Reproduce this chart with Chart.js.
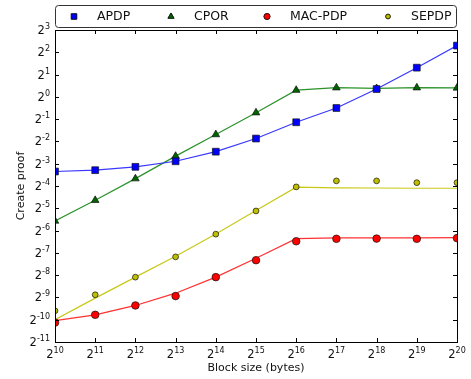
<!DOCTYPE html>
<html>
<head>
<meta charset="utf-8">
<script src="https://cdn.jsdelivr.net/npm/chart.js@4.4.0/dist/chart.umd.min.js"></script>
<style>
  html, body { margin: 0; padding: 0; background: #fff; }
  #wrap { width: 471px; height: 379px; }
</style>
</head>
<body>
<div id="wrap"><canvas id="graficoProof" width="471" height="379"></canvas></div>
<script>
// Eje x: exponentes de 2 del tamaño de bloque (bytes)
const blockExp = [10, 11, 12, 13, 14, 15, 16, 17, 18, 19, 20];
// Eje y: exponentes de 2 del tiempo
const yTickExp = [-11, -10, -9, -8, -7, -6, -5, -4, -3, -2, -1, 0, 1, 2, 3];

// Valores (log2 del tiempo)
const apdp = [-3.35, -3.29, -3.14, -2.89, -2.46, -1.87, -1.14, -0.50, 0.35, 1.31, 2.30];
const cpor = [-5.57, -4.64, -3.67, -2.66, -1.69, -0.71, 0.30, 0.41, 0.38, 0.41, 0.40];
const macPdp = [-10.13, -9.78, -9.36, -8.94, -8.09, -7.33, -6.48, -6.37, -6.36, -6.37, -6.34];
const sepdp = [-9.60, -8.88, -8.09, -7.18, -6.16, -5.12, -4.04, -3.77, -3.77, -3.85, -3.85];

// Curvas de ajuste (líneas)
const apdpFit = apdp;
const cporFit = cpor;
const macPdpFit = [-10.04, -9.78, -9.36, -8.81, -8.09, -7.24, -6.36, -6.33, -6.33, -6.33, -6.32];
const sepdpFit = [-10.0, -9.03, -8.09, -7.15, -6.15, -5.10, -4.05, -4.08, -4.09, -4.10, -4.10];

const seriesNames = ['APDP', 'CPOR', 'MAC-PDP', 'SEPDP'];

function puntos(valores) {
    return blockExp.map((x, i) => ({ x: x, y: valores[i] }));
}

function serieLinea(valores, color) {
    return {
        data: puntos(valores),
        borderColor: color,
        borderWidth: 1.2,
        pointRadius: 0,
        fill: false,
        tension: 0,
        order: 10,
        esLinea: true
    };
}

function serieMarcas(label, valores, color, estilo, radio) {
    return {
        label: label,
        data: puntos(valores),
        showLine: false,
        pointStyle: estilo,
        pointRadius: radio,
        pointBackgroundColor: color,
        pointBorderColor: '#111',
        pointBorderWidth: 0.7,
        clip: 0,
        order: 1
    };
}

const fuente = '"DejaVu Sans", sans-serif';

function dibujarPotencia(ctx, exp, x, y, alinear) {
    const base = '2';
    const sup = String(exp);
    ctx.font = '11.5px ' + fuente;
    const wb = ctx.measureText(base).width;
    ctx.font = '8px ' + fuente;
    const ws = ctx.measureText(sup).width;
    const izq = alinear === 'right' ? x - wb - ws : x - (wb + ws) / 2;
    ctx.textAlign = 'left';
    ctx.textBaseline = 'alphabetic';
    ctx.font = '11.5px ' + fuente;
    ctx.fillText(base, izq, y);
    ctx.font = '8px ' + fuente;
    ctx.fillText(sup, izq + wb, y - 5);
}

// Marco, marcas de los ejes hacia dentro, etiquetas, títulos y leyenda
const ejesPlugin = {
    id: 'ejesMatplotlib',
    afterDraw(chart) {
        const ctx = chart.ctx;
        const a = chart.chartArea;
        const sx = chart.scales.x;
        const sy = chart.scales.y;
        ctx.save();
        ctx.strokeStyle = '#000';
        ctx.fillStyle = '#111';
        ctx.lineWidth = 1;

        // ticks
        ctx.beginPath();
        blockExp.forEach(e => {
            const px = Math.round(sx.getPixelForValue(e)) + 0.5;
            ctx.moveTo(px, a.bottom); ctx.lineTo(px, a.bottom - 4);
            ctx.moveTo(px, a.top); ctx.lineTo(px, a.top + 4);
        });
        yTickExp.forEach(e => {
            const py = Math.round(sy.getPixelForValue(e)) + 0.5;
            ctx.moveTo(a.left, py); ctx.lineTo(a.left + 4, py);
            ctx.moveTo(a.right, py); ctx.lineTo(a.right - 4, py);
        });
        ctx.stroke();

        // marco
        ctx.strokeRect(Math.round(a.left) + 0.5, Math.round(a.top) + 0.5,
            Math.round(a.right - a.left), Math.round(a.bottom - a.top));

        // etiquetas de los ticks
        blockExp.forEach(e => {
            dibujarPotencia(ctx, e, sx.getPixelForValue(e), a.bottom + 16, 'center');
        });
        yTickExp.forEach(e => {
            dibujarPotencia(ctx, e, a.left - 5, sy.getPixelForValue(e) + 4, 'right');
        });

        // títulos de los ejes
        ctx.font = '11px ' + fuente;
        ctx.textAlign = 'center';
        ctx.textBaseline = 'middle';
        ctx.fillText('Block size (bytes)', (a.left + a.right) / 2, 368);
        ctx.save();
        ctx.translate(21, (a.top + a.bottom) / 2);
        ctx.rotate(-Math.PI / 2);
        ctx.fillText('Create proof', 0, 0);
        ctx.restore();

        // leyenda
        const lx = 55.5, ly = 5.5, lw = 401, lh = 22, r = 3;
        ctx.beginPath();
        ctx.roundRect(lx, ly, lw, lh, r);
        ctx.fillStyle = '#fff';
        ctx.fill();
        ctx.strokeStyle = '#333';
        ctx.stroke();
        const posMarca = [74, 171, 267, 388];
        const marcas = chart.data.datasets.filter(d => !d.esLinea);
        marcas.forEach((d, i) => {
            Chart.helpers.drawPoint(ctx, {
                pointStyle: d.pointStyle,
                radius: d.pointRadius * 0.8,
                borderWidth: 0.7
            }, posMarca[i], 16.5);
            ctx.fillStyle = d.pointBackgroundColor;
            ctx.strokeStyle = '#111';
            ctx.lineWidth = 0.7;
            ctx.fill();
            ctx.stroke();
            ctx.fillStyle = '#111';
            ctx.font = '12.5px ' + fuente;
            ctx.textAlign = 'left';
            ctx.textBaseline = 'middle';
            ctx.fillText(d.label, posMarca[i] + 23, 17);
        });
        ctx.restore();
    }
};

function generarGraficoProof() {
    const ctx = document.getElementById('graficoProof').getContext('2d');

    const data = {
        datasets: [
            serieLinea(apdpFit, '#3838ff'),
            serieLinea(cporFit, '#2a922a'),
            serieLinea(macPdpFit, '#ff3030'),
            serieLinea(sepdpFit, '#c8c818'),
            serieMarcas(seriesNames[0], apdp, '#0000ff', 'rect', 4.8),
            serieMarcas(seriesNames[1], cpor, '#006400', 'triangle', 4.4),
            serieMarcas(seriesNames[2], macPdp, '#ff0000', 'circle', 3.8),
            serieMarcas(seriesNames[3], sepdp, '#bfbf00', 'circle', 2.9)
        ]
    };

    const config = {
        type: 'line',
        data: data,
        options: {
            responsive: false,
            animation: false,
            devicePixelRatio: 1,
            layout: {
                padding: { left: 55, top: 30, right: 14, bottom: 37 }
            },
            scales: {
                x: { type: 'linear', min: 10, max: 20, display: false },
                y: { type: 'linear', min: -11, max: 3, display: false }
            },
            plugins: {
                legend: { display: false },
                tooltip: { enabled: false }
            }
        },
        plugins: [ejesPlugin]
    };

    new Chart(ctx, config);
}

generarGraficoProof();
</script>
</body>
</html>
